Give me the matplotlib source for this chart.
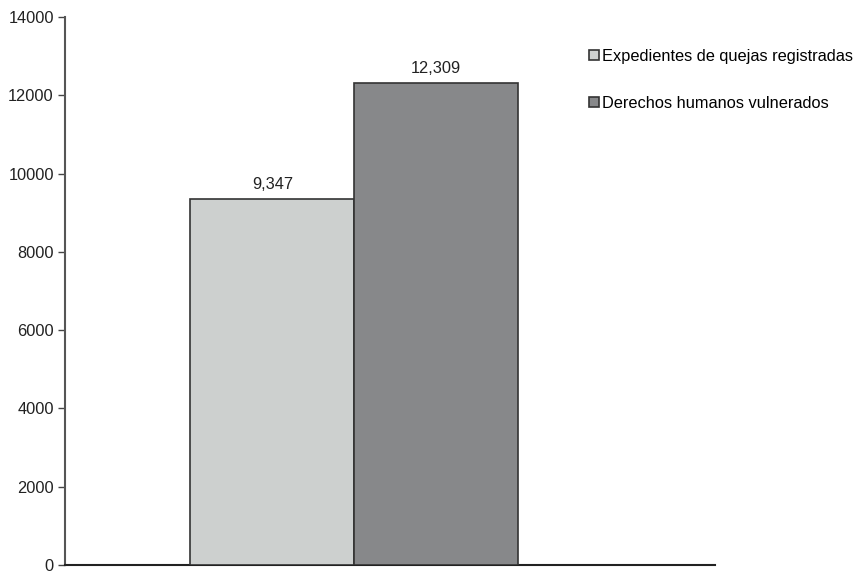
import matplotlib
matplotlib.use("Agg")
import matplotlib.pyplot as plt

# data
categories = ["Expedientes de quejas registradas", "Derechos humanos vulnerados"]
values = [9347, 12309]
value_labels = ["9,347", "12,309"]
y_ticks = [0, 2000, 4000, 6000, 8000, 10000, 12000, 14000]

COLORS = ["#cdd0cf", "#87888a"]
EDGE = "#333333"
FS = 11.8

plt.rcParams["font.family"] = ["Liberation Sans", "DejaVu Sans"]

fig = plt.figure(figsize=(8.65, 5.75), dpi=100)
ax = fig.add_axes([0.0751, 0.0175, 0.7515, 0.9529])

positions = list(range(len(values)))
ax.bar(positions, values, width=1.0, color=COLORS,
       edgecolor=EDGE, linewidth=1.2, zorder=3)

for x, v, lab in zip(positions, values, value_labels):
    ax.text(x, v + 180, lab, ha="center", va="bottom", fontsize=FS, color="#222222")

ax.set_xlim(-1.265, 2.70)
ax.set_ylim(0, 14000)
ax.set_yticks(y_ticks)
ax.set_yticklabels([str(t) for t in y_ticks], fontsize=FS, color="#222222")
ax.set_xticks([])
ax.tick_params(axis="y", direction="out", length=5, width=1.0, color="#444444", pad=3)

for s in ["top", "right"]:
    ax.spines[s].set_visible(False)
ax.spines["left"].set_color("#555555")
ax.spines["left"].set_linewidth(1.5)
ax.spines["bottom"].set_color("#222222")
ax.spines["bottom"].set_linewidth(1.5)

handles = [plt.Rectangle((0, 0), 1, 1, facecolor=c, edgecolor=EDGE, linewidth=1.2)
           for c in COLORS]
fig.legend(handles, categories, loc="upper left", bbox_to_anchor=(0.681, 0.915),
           frameon=False, fontsize=FS, handlelength=0.6, handleheight=0.6,
           handletextpad=0.2, labelspacing=1.95, borderaxespad=0, borderpad=0)

fig.savefig("out.png", dpi=100, facecolor="white")
